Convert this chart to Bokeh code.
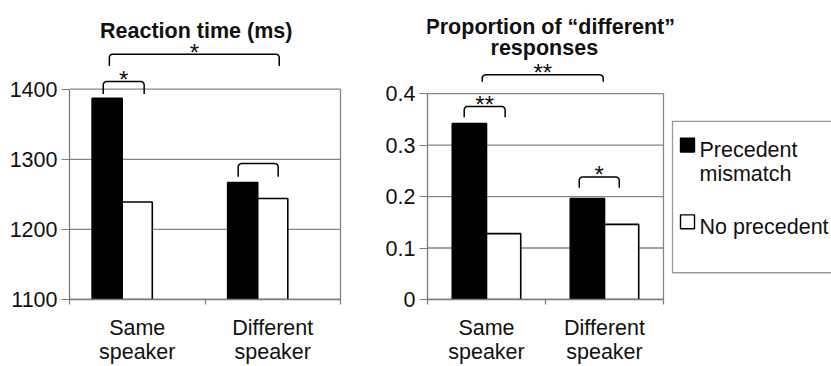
import numpy as np
from bokeh.plotting import figure
from bokeh.models import Range1d, FixedTicker, Label
from bokeh.layouts import row
from bokeh.embed import file_html
from bokeh.resources import INLINE
from bokeh.core.properties import value

# ---------------- data ----------------
categories = ["Same\nspeaker", "Different\nspeaker"]
series_names = ["Precedent\nmismatch", "No precedent"]
series_colors = ["#000000", "#ffffff"]

rt_precedent = [1387, 1267]
rt_no_precedent = [1239, 1244]
prop_precedent = [0.342, 0.196]
prop_no_precedent = [0.128, 0.146]

rt_ticks = [1100, 1200, 1300, 1400]
rt_tick_labels = ["1100", "1200", "1300", "1400"]
prop_ticks = [0, 0.1, 0.2, 0.3, 0.4]
prop_tick_labels = ["0", "0.1", "0.2", "0.3", "0.4"]

rt_title = ["Reaction time (ms)"]
prop_title = ["Proportion of \u201cdifferent\u201d", "responses"]

# significance brackets
rt_sig_from = [0.249, 0.294, 1.245]
rt_sig_to = [0.551, 1.548, 1.540]
rt_sig_top = [1411, 1450, 1294]
rt_sig_leg = [1393, 1433, 1275]
rt_sig_text = ["*", "*", ""]

prop_sig_from = [0.311, 0.464, 1.286]
prop_sig_to = [0.658, 1.489, 1.625]
prop_sig_top = [0.375, 0.4365, 0.238]
prop_sig_leg = [0.354, 0.423, 0.217]
prop_sig_text = ["**", "**", "*"]

# ---------------- style ----------------
FONT = "Liberation Sans"
FS = "21.5px"
STAR_FS = "24px"
GRID = "#868686"
AXIS = "#7c7c7c"
TEXT = "#111111"
H = 366


def bracket_path(x0, x1, top, leg, rx, ry):
    t = np.linspace(0, np.pi / 2, 7)
    lx = x0 + rx - rx * np.cos(t)
    ly = top - ry + ry * np.sin(t)
    rxs = x1 - rx + rx * np.sin(t)
    rys = top - ry + ry * np.cos(t)
    xs = [x0] + list(lx) + list(rxs) + [x1]
    ys = [leg] + list(ly) + list(rys) + [leg]
    return xs, ys


def make_chart(width, border_left, border_bottom, px_x, px_y, y0,
               series_vals, offsets, bar_w, ticks, tick_labels,
               title_lines, title_x, title_base,
               sig_from, sig_to, sig_top, sig_leg, sig_text):
    n = len(categories)
    frame_w = width - border_left
    frame_h = H - border_bottom
    x_end = frame_w / px_x
    y_end = y0 + frame_h / px_y
    p = figure(width=width, height=H, x_range=Range1d(0, x_end),
               y_range=Range1d(y0, y_end), output_backend="svg",
               toolbar_location=None, title=None,
               min_border_left=border_left, min_border_right=0,
               min_border_top=0, min_border_bottom=border_bottom)
    p.outline_line_color = None
    p.background_fill_color = "white"
    p.border_fill_color = "white"
    p.grid.visible = False

    # gridlines and right border of plot area
    p.segment(x0=[0] * len(ticks), x1=[n] * len(ticks), y0=ticks, y1=ticks,
              line_color=GRID, line_width=1.3)
    p.segment(x0=[n], x1=[n], y0=[ticks[0]], y1=[ticks[-1]],
              line_color=GRID, line_width=1.3)

    # bars
    for k, vals in enumerate(series_vals):
        xs = [i + 0.5 + offsets[k] for i in range(n)]
        p.vbar(x=xs, width=bar_w, top=vals, bottom=y0,
               fill_color=series_colors[k], line_color="black", line_width=1.6)

    # axes
    ya = p.yaxis[0]
    ya.ticker = FixedTicker(ticks=ticks)
    ya.major_label_overrides = dict(zip(ticks, tick_labels))
    ya.bounds = (ticks[0], ticks[-1])
    ya.axis_line_color = AXIS
    ya.axis_line_width = 1.3
    ya.major_tick_line_color = AXIS
    ya.major_tick_line_width = 1.2
    ya.major_tick_out = 8
    ya.major_tick_in = 0
    ya.minor_tick_line_color = None
    ya.major_label_standoff = 4
    ya.major_label_text_font = FONT
    ya.major_label_text_font_size = FS
    ya.major_label_text_color = TEXT

    xa = p.xaxis[0]
    centers = [i + 0.5 for i in range(n)]
    xa.ticker = FixedTicker(ticks=centers, minor_ticks=list(range(n + 1)))
    xa.major_label_overrides = dict(zip(centers, categories))
    xa.bounds = (0, n)
    xa.axis_line_color = AXIS
    xa.axis_line_width = 1.3
    xa.major_tick_line_color = None
    xa.major_tick_out = 0
    xa.major_tick_in = 0
    xa.minor_tick_line_color = AXIS
    xa.minor_tick_line_width = 1.2
    xa.minor_tick_out = 5
    xa.minor_tick_in = 0
    xa.major_label_standoff = 11
    xa.major_label_text_font = FONT
    xa.major_label_text_font_size = FS
    xa.major_label_text_color = TEXT
    xa.major_label_text_line_height = 1.0

    # significance brackets
    rx, ry = 3.5 / px_x, 3.5 / px_y
    bx, by = [], []
    for a, b, t, l in zip(sig_from, sig_to, sig_top, sig_leg):
        xs, ys = bracket_path(a, b, t, l, rx, ry)
        bx.append(xs)
        by.append(ys)
    p.multi_line(xs=bx, ys=by, line_color="black", line_width=1.5)
    p.text(x=[(a + b) / 2 for a, b in zip(sig_from, sig_to)],
           y=[t + 2.0 / px_y for t in sig_top], text=sig_text,
           text_align="center", text_baseline="alphabetic",
           text_font=value(FONT), text_font_size=value(STAR_FS), text_color=TEXT)

    # title
    for line, tx, tb in zip(title_lines, title_x, title_base):
        p.add_layout(Label(x=tx, y=tb, text=line, text_align="center",
                           text_baseline="alphabetic", text_font=FONT,
                           text_font_style="bold", text_font_size=FS,
                           text_color=TEXT))
    return p, x_end, y_end


# left chart: frame from x=69 in figure; 135.5 px per category, 0.70333 px per ms
p1, _, _ = make_chart(380, 69, 66, 135.5, 211 / 300, 1100,
                      [rt_precedent, rt_no_precedent], [-0.222, 0.0], 0.222,
                      rt_ticks, rt_tick_labels,
                      rt_title, [0.935], [1483.6],
                      rt_sig_from, rt_sig_to, rt_sig_top, rt_sig_leg, rt_sig_text)

# right chart: 118 px per category, 520 px per unit
PX2, PY2 = 118, 520
p2, x2_end, y2_end = make_chart(451, 47, 64, PX2, PY2, 0,
                                [prop_precedent, prop_no_precedent], [-0.145, 0.145], 0.29,
                                prop_ticks, prop_tick_labels,
                                prop_title, [1.04, 0.99], [0.5294, 0.4879],
                                prop_sig_from, prop_sig_to, prop_sig_top, prop_sig_leg,
                                prop_sig_text)


# legend (drawn in the right chart's frame, positions in frame pixels)
def fx(px):
    return px / PX2


def fy(py):
    return y2_end - py / PY2


p2.quad(left=[fx(245)], right=[x2_end + 1], top=[fy(122)], bottom=[fy(275)],
        fill_color="white", line_color="#9a9a9a", line_width=1.3)
item_tops = [139, 216.5]
for k, name in enumerate(series_names):
    t0 = item_tops[k]
    p2.quad(left=[fx(253)], right=[fx(267)], top=[fy(t0)], bottom=[fy(t0 + 14)],
            fill_color=series_colors[k], line_color="black", line_width=1.4)
    lines = name.split("\n")
    p2.text(x=[fx(272)] * len(lines),
            y=[fy(t0 + 12.5 + 24 * j) for j in range(len(lines))],
            text=lines, text_align="left", text_baseline="alphabetic",
            text_font=value(FONT), text_font_size=value(FS), text_color=TEXT)

layout = row(p1, p2)
open("out.html", "w").write(file_html(layout, INLINE))
